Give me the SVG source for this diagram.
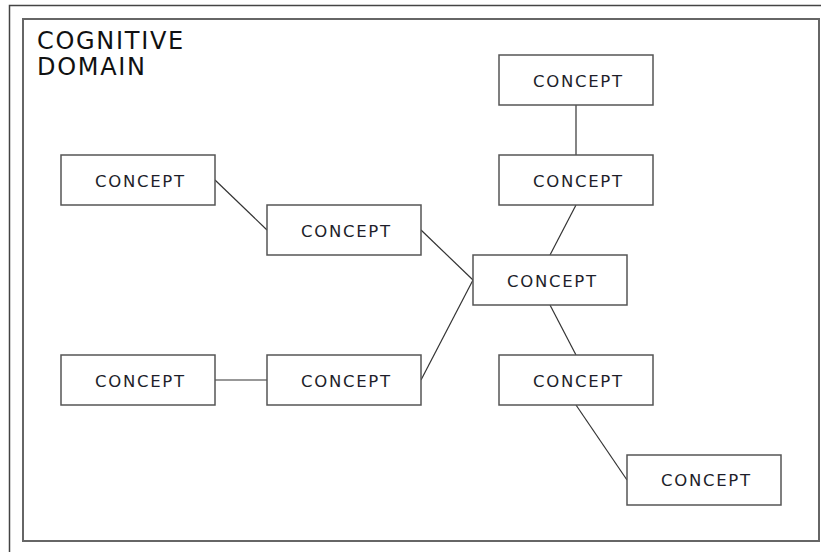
<svg xmlns="http://www.w3.org/2000/svg" width="821" height="552" viewBox="0 0 821 552">
<style>
.frame{fill:none;stroke:#444;stroke-width:1.5}
.inner{fill:#fff;stroke:#666;stroke-width:2}
.node rect{fill:#fff;stroke:#555;stroke-width:1.5}
.node text{font-family:"DejaVu Sans",sans-serif;font-size:16.5px;fill:#1e1e2a}
.title{font-family:"DejaVu Sans",sans-serif;font-size:24px;fill:#111;letter-spacing:1.7px}
#connectors line{stroke:#333;stroke-width:1.2}
</style>
<rect width="821" height="552" fill="#fff"/>
<rect class="frame" x="9.5" y="5.5" width="830" height="560"/>
<rect class="inner" x="23" y="19" width="796" height="522"/>
<text class="title" x="37" y="48.5">COGNITIVE</text>
<text class="title" x="37" y="75">DOMAIN</text>
<g id="connectors">
<line x1="215" y1="180" x2="267" y2="230"/>
<line x1="421" y1="230" x2="473" y2="280"/>
<line x1="421" y1="380" x2="473" y2="280"/>
<line x1="215" y1="380" x2="267" y2="380"/>
<line x1="576" y1="105" x2="576" y2="155"/>
<line x1="576" y1="205" x2="550" y2="255"/>
<line x1="550" y1="305" x2="576" y2="355"/>
<line x1="576" y1="405" x2="627" y2="480"/>
</g>
<g id="n1" class="node"><rect x="61" y="155" width="154" height="50"/><text x="95" y="186.5" textLength="89" lengthAdjust="spacing">CONCEPT</text></g>
<g id="n2" class="node"><rect x="267" y="205" width="154" height="50"/><text x="301" y="236.5" textLength="89" lengthAdjust="spacing">CONCEPT</text></g>
<g id="n3" class="node"><rect x="61" y="355" width="154" height="50"/><text x="95" y="386.5" textLength="89" lengthAdjust="spacing">CONCEPT</text></g>
<g id="n4" class="node"><rect x="267" y="355" width="154" height="50"/><text x="301" y="386.5" textLength="89" lengthAdjust="spacing">CONCEPT</text></g>
<g id="n5" class="node"><rect x="473" y="255" width="154" height="50"/><text x="507" y="286.5" textLength="89" lengthAdjust="spacing">CONCEPT</text></g>
<g id="n6" class="node"><rect x="499" y="55" width="154" height="50"/><text x="533" y="86.5" textLength="89" lengthAdjust="spacing">CONCEPT</text></g>
<g id="n7" class="node"><rect x="499" y="155" width="154" height="50"/><text x="533" y="186.5" textLength="89" lengthAdjust="spacing">CONCEPT</text></g>
<g id="n8" class="node"><rect x="499" y="355" width="154" height="50"/><text x="533" y="386.5" textLength="89" lengthAdjust="spacing">CONCEPT</text></g>
<g id="n9" class="node"><rect x="627" y="455" width="154" height="50"/><text x="661" y="485.5" textLength="89" lengthAdjust="spacing">CONCEPT</text></g>
</svg>
